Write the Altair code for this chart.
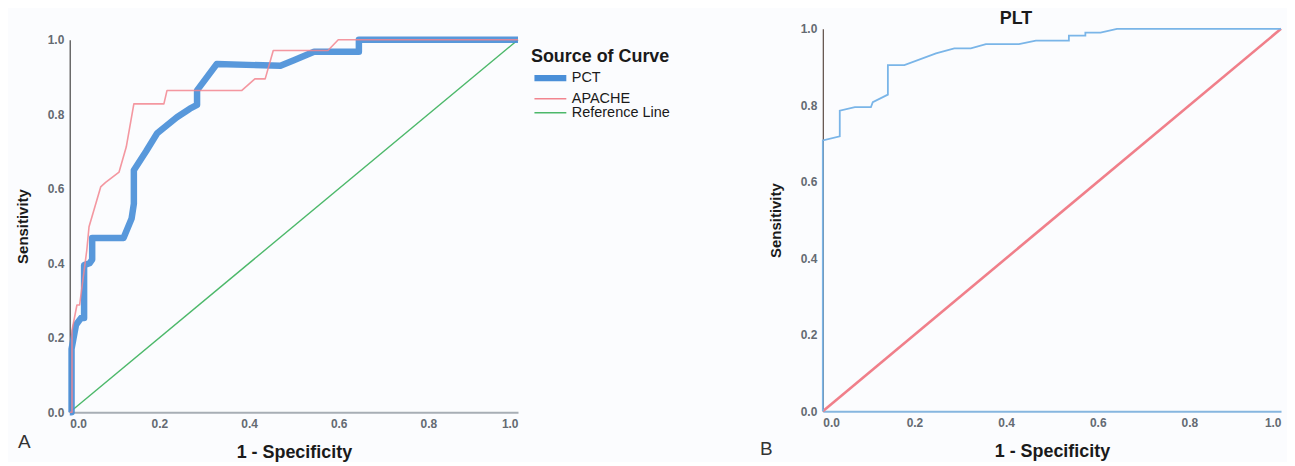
import altair as alt
import pandas as pd

# ---------------- data ----------------
tick_values = [0.0, 0.2, 0.4, 0.6, 0.8, 1.0]
curves_a = ["PCT", "APACHE", "Reference Line"]

pct_x = [0.0, 0.004, 0.004, 0.014, 0.025, 0.032, 0.032, 0.044, 0.05, 0.05, 0.12, 0.138, 0.143,
         0.143, 0.17, 0.195, 0.239, 0.268, 0.284, 0.284, 0.328, 0.47, 0.50, 0.545, 0.645, 0.645, 1.0]
pct_y = [0.0, 0.0, 0.17, 0.235, 0.253, 0.253, 0.395, 0.40, 0.41, 0.468, 0.468, 0.52, 0.56,
         0.65, 0.70, 0.749, 0.792, 0.815, 0.825, 0.864, 0.935, 0.93, 0.945, 0.968, 0.968, 1.0, 1.0]

apache_x = [0.0, 0.005, 0.005, 0.016, 0.022, 0.038, 0.043, 0.069, 0.08, 0.11, 0.126, 0.143,
            0.21, 0.217, 0.384, 0.413, 0.436, 0.454, 0.576, 0.599, 1.0]
apache_y = [0.0, 0.0, 0.22, 0.288, 0.288, 0.435, 0.498, 0.605, 0.617, 0.645, 0.712, 0.828,
            0.828, 0.864, 0.864, 0.895, 0.895, 0.971, 0.971, 1.0, 1.0]

ref_x = [0.0, 1.0]
ref_y = [0.0, 1.0]

plt_x = [0.0, 0.0, 0.037, 0.037, 0.07, 0.105, 0.109, 0.142, 0.142, 0.178, 0.247, 0.287, 0.323,
         0.356, 0.428, 0.465, 0.537, 0.537, 0.573, 0.573, 0.606, 0.642, 1.0]
plt_y = [0.0, 0.708, 0.719, 0.786, 0.795, 0.795, 0.808, 0.828, 0.905, 0.905, 0.936, 0.949, 0.949,
         0.96, 0.96, 0.969, 0.969, 0.982, 0.982, 0.99, 0.99, 1.0, 1.0]

# ---------------- styling ----------------
FONT = "Liberation Sans"
BG = "#fbfcfe"
colors_a = ["#4a8fd8", "#f2858f", "#4cb86a"]
widths_a = [6.5, 1.6, 1.4]
plt_color = "#7ab5e8"
diag_color = "#f07f8a"

W_A, H_A = 450, 374
W_B, H_B = 460, 373   # plot box of B; its 1.0 sits 11px above the box top

rows = []
for name, xs, ys in [("PCT", pct_x, pct_y), ("APACHE", apache_x, apache_y),
                     ("Reference Line", ref_x, ref_y)]:
    for i, (x, y) in enumerate(zip(xs, ys)):
        rows.append({"curve": name, "fpr": x, "tpr": y, "order": i})
df_a = pd.DataFrame(rows)

rows_b = []
for name, xs, ys in [("PLT", plt_x, plt_y), ("Reference Line", ref_x, ref_y)]:
    for i, (x, y) in enumerate(zip(xs, ys)):
        rows_b.append({"curve": name, "fpr": x, "tpr": y, "order": i})
df_b = pd.DataFrame(rows_b)


def x_enc(domain_color, domain_width):
    return alt.X("fpr:Q", scale=alt.Scale(domain=[0, 1], nice=False),
                 axis=alt.Axis(values=tick_values, format=".1f", title="1 - Specificity",
                               domainColor=domain_color, domainWidth=domain_width,
                               labelPadding=6, titlePadding=14, titleFontSize=18))


def y_enc(domain_color, domain_width, rng=None):
    if rng is None:
        sc = alt.Scale(domain=[0, 1], nice=False)
    else:
        sc = alt.Scale(domain=[0, 1], nice=False, range=rng)
    return alt.Y("tpr:Q", scale=sc,
                 axis=alt.Axis(values=tick_values, format=".1f", title="Sensitivity",
                               domainColor=domain_color, domainWidth=domain_width,
                               labelPadding=6, titlePadding=17, titleFontSize=15))


legend_a = alt.Legend(title="Source of Curve", orient="none", legendX=463, legendY=8,
                      symbolType="M-1,0L5.4,0", symbolSize=100, labelFontSize=14.5,
                      titleFontSize=18, titleFontWeight="bold", titleColor="#1a1a1a",
                      labelColor="#1a1a1a", labelFont=FONT, titleFont=FONT,
                      titlePadding=4, rowPadding=-1, labelOffset=24, padding=0)

color_a = alt.Color("curve:N", scale=alt.Scale(domain=curves_a, range=colors_a), legend=legend_a)
sw_a = alt.StrokeWidth("curve:N", scale=alt.Scale(type="ordinal", domain=curves_a, range=widths_a),
                       legend=legend_a)

base_a = alt.Chart(df_a)
xa = x_enc("#a7aeb5", 2)
ya = y_enc("#6a6a6a", 1.5)


def curve_layer(name, opacity):
    return base_a.transform_filter(alt.datum.curve == name).mark_line(
        strokeJoin="round", strokeCap="butt", opacity=opacity
    ).encode(x=xa, y=ya, order="order:Q", color=color_a, strokeWidth=sw_a)


ref_layer = curve_layer("Reference Line", 1.0)
pct_layer = curve_layer("PCT", 0.92)
apache_layer = curve_layer("APACHE", 0.85)

label_a = alt.Chart(pd.DataFrame({"t": ["A"]})).mark_text(
    align="left", baseline="alphabetic", fontSize=19, font=FONT, color="#333333"
).encode(x=alt.value(-52), y=alt.value(H_A + 36), text="t:N")

panel_a = alt.layer(ref_layer, pct_layer, apache_layer, label_a).properties(
    width=W_A, height=H_A)

# ---------------- panel B ----------------
base_b = alt.Chart(df_b)
xb = x_enc("#86b6df", 2)
yb = y_enc("#5b4a44", 1.2, rng=[H_B, -11])

diag_layer = base_b.transform_filter(alt.datum.curve == "Reference Line").mark_line(
    color=diag_color, strokeWidth=2.6).encode(x=xb, y=yb, order="order:Q")
plt_layer = base_b.transform_filter(alt.datum.curve == "PLT").mark_line(
    color=plt_color, strokeWidth=1.8).encode(x=xb, y=yb, order="order:Q")

title_b = alt.Chart(pd.DataFrame({"t": ["PLT"]})).mark_text(
    align="center", baseline="alphabetic", fontSize=18, fontWeight="bold", font=FONT,
    color="#1a1a1a"
).encode(x=alt.value(194), y=alt.value(-15.5), text="t:N")

label_b = alt.Chart(pd.DataFrame({"t": ["B"]})).mark_text(
    align="left", baseline="alphabetic", fontSize=19, font=FONT, color="#333333"
).encode(x=alt.value(-63), y=alt.value(417), text="t:N")

panel_b = alt.layer(diag_layer, plt_layer, title_b, label_b).properties(width=W_B, height=H_B)

chart = alt.hconcat(panel_a, panel_b, spacing=239).properties(
    padding={"left": 7, "top": 1, "right": 0, "bottom": 0}
).configure(background=BG, font=FONT).configure_view(stroke=None).configure_axis(
    ticks=False, grid=False, labelFont=FONT, labelFontSize=12, labelFontWeight="bold",
    labelColor="#646a72", titleFont=FONT, titleFontWeight="bold", titleColor="#1a1a1a"
)

chart.save("out.html", embed_options={"renderer": "svg", "actions": False})
